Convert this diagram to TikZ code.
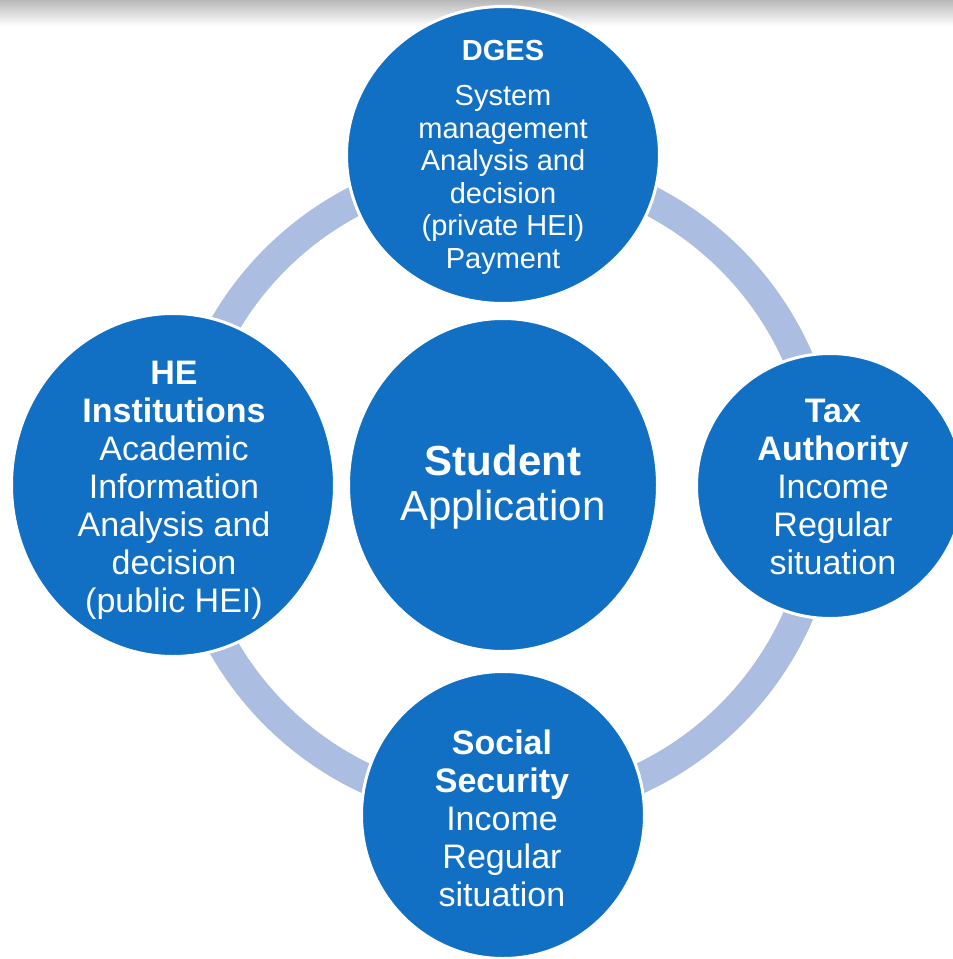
\documentclass[tikz,border=0pt]{standalone}
\usepackage{fontspec}
\setmainfont{Liberation Sans}
\usetikzlibrary{shapes.geometric}

\definecolor{bubbleblue}{RGB}{17,112,196}
\definecolor{ringblue}{RGB}{171,189,224}

\tikzset{
  bubble/.style={ellipse, fill=bubbleblue, draw=white, line width=3pt, inner sep=0pt},
  bubbletext/.style={text=white, align=center, inner sep=0pt},
  smalltext/.style={bubbletext, font=\fontsize{29}{32.5}\selectfont},
  bigtext/.style={bubbletext, font=\fontsize{34}{38}\selectfont},
  hubtext/.style={bubbletext, font=\fontsize{42}{45}\selectfont},
}

\begin{document}
\begin{tikzpicture}[x=1pt,y=-1pt]
  \useasboundingbox (0,0) rectangle (953,959);

  % Shadow band on top
  \shade[top color=black!28, bottom color=white] (0,0) rectangle (953,26);

  % Draw ring
  \draw[ringblue, line width=30pt] (503,487) circle[radius=322pt];

  % Plot bubbles
  \node[bubble, minimum width=313pt, minimum height=297pt] (dges) at (503,155) {};
  \node[bubble, minimum width=323pt, minimum height=343pt] (hei) at (173,485) {};
  \node[bubble, minimum width=267pt, minimum height=265pt] (tax) at (830,486) {};
  \node[bubble, minimum width=283pt, minimum height=287pt] (social) at (503,815) {};
  \node[bubble, minimum width=309pt, minimum height=333pt] (student) at (503,485) {};

  % Label bubbles
  \node[smalltext] (dges-txt) at (503,157)
    {\textbf{DGES}\\[13pt] System\\ management\\ Analysis and\\ decision\\ (private HEI)\\ Payment};
  \node[bigtext] (hei-txt) at (174,490)
    {\textbf{HE}\\ \textbf{Institutions}\\ Academic\\ Information\\ Analysis and\\ decision\\ (public HEI)};
  \node[bigtext] (tax-txt) at (833,487)
    {\textbf{Tax}\\ \textbf{Authority}\\ Income\\ Regular\\ situation};
  \node[bigtext] (social-txt) at (502,818)
    {\textbf{Social}\\ \textbf{Security}\\ Income\\ Regular\\ situation};
  \node[hubtext] (student-txt) at (503,487)
    {\textbf{Student}\\ Application};

\end{tikzpicture}
\end{document}
